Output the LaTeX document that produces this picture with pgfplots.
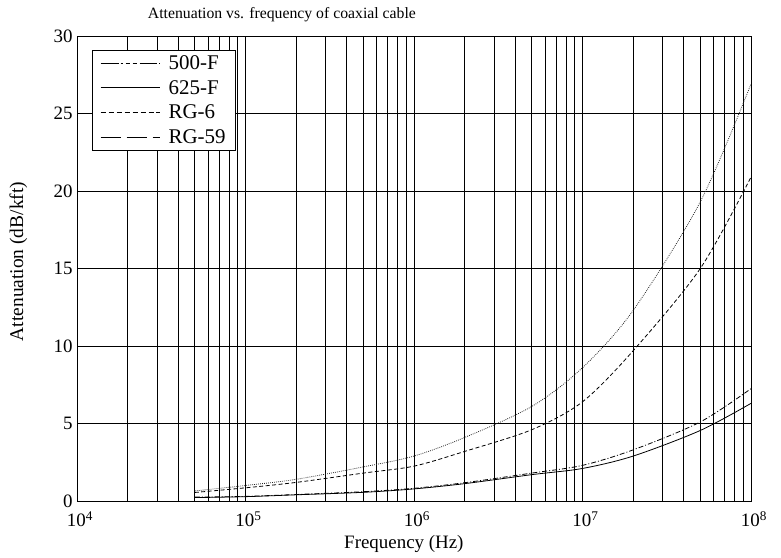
\documentclass[border=0pt]{standalone}
\usepackage{pgfplots}
\pgfplotsset{compat=1.18}
\usepackage{fontspec}
\setmainfont{Liberation Serif}
\begin{document}
\begin{tikzpicture}
\useasboundingbox (-77bp,-57bp) rectangle (704bp,501bp);
\begin{axis}[
  at={(0,0)}, anchor=south west,
  scale only axis, width=674bp, height=465bp,
  xmode=log, xmin=1e4, xmax=1e8, ymin=0, ymax=30,
  xtick={1e4,1e5,1e6,1e7,1e8},
  xticklabels={10\textsuperscript{4},10\textsuperscript{5},10\textsuperscript{6},10\textsuperscript{7},10\textsuperscript{8}},
  ytick={0,5,10,15,20,25,30},
  /pgf/number format/assume math mode=true,
  tick label style={font=\fontsize{19}{21}\selectfont},
  xticklabel style={yshift=-7bp, xshift=3bp},
  yticklabel style={xshift=-1bp},
  title style={font=\fontsize{15.8}{18}\selectfont, at={(axis description cs:0.304,1.034)}, anchor=center},
  title={Attenuation vs. frequency of coaxial cable},
  xlabel={Frequency (Hz)}, ylabel={Attenuation (dB/kft)},
  xlabel style={font=\fontsize{19}{21}\selectfont, at={(axis description cs:0.485,-0.093)}, anchor=center},
  ylabel style={font=\fontsize{19.5}{21}\selectfont, at={(axis description cs:-0.087,0.515)}, anchor=center},
  xmajorgrids, xminorgrids, ymajorgrids,
  major grid style={black, line width=1pt},
  minor grid style={black, line width=1pt},
  axis line style={black, line width=1pt},
  tick style={draw=none},
  legend cell align=left,
  legend style={at={(0.022,0.97)}, anchor=north west, draw=black, line width=0.9pt,
    fill=white, font=\fontsize{21}{23}\selectfont, inner xsep=8pt, inner ysep=3pt, row sep=5.5pt,
    /tikz/every odd column/.append style={column sep=6pt}},
  legend image post style={line width=0.9pt},
  legend image code/.code={\draw[#1] (0cm,0cm) -- (2.1cm,0cm);},
]
\addlegendimage{black, dash pattern=on 18pt off 2pt on 2pt off 3pt on 4pt off 3pt on 4pt off 3pt}
\addlegendentry{500-F}
\addlegendimage{black}
\addlegendentry{625-F}
\addlegendimage{black, dash pattern=on 5pt off 3pt}
\addlegendentry{RG-6}
\addlegendimage{black, dash pattern=on 20pt off 6pt}
\addlegendentry{RG-59}

% 500-F dash-dot
\addplot[forget plot, smooth, black, line width=0.8pt, dash pattern=on 5pt off 2pt on 1pt off 2pt] coordinates {
(5e4,0.25) (1e5,0.30) (2e5,0.42) (5e5,0.60) (1e6,0.82) (2e6,1.18) (5e6,1.80) (1e7,2.30) (2e7,3.30) (5e7,5.10) (1e8,7.25)};
% 625-F solid
\addplot[forget plot, smooth, black, line width=0.8pt] coordinates {
(5e4,0.22) (1e5,0.28) (2e5,0.40) (5e5,0.56) (1e6,0.78) (2e6,1.12) (5e6,1.70) (1e7,2.10) (2e7,2.90) (5e7,4.55) (1e8,6.30)};
% RG-6 dashed
\addplot[forget plot, smooth, black, line width=0.8pt, dash pattern=on 4pt off 2.5pt] coordinates {
(5e4,0.55) (1e5,0.85) (2e5,1.20) (5e5,1.80) (1e6,2.25) (2e6,3.20) (5e6,4.60) (1e7,6.40) (2e7,9.70) (5e7,15.0) (1e8,20.9)};
% RG-59 dotted
\addplot[forget plot, smooth, black!85, line width=0.8pt, dash pattern=on 0.8pt off 1.2pt] coordinates {
(5e4,0.65) (1e5,1.00) (2e5,1.40) (5e5,2.20) (1e6,2.90) (2e6,4.10) (5e6,6.10) (1e7,8.60) (2e7,12.3) (5e7,19.3) (1e8,26.9)};
\end{axis}
\end{tikzpicture}
\end{document}
